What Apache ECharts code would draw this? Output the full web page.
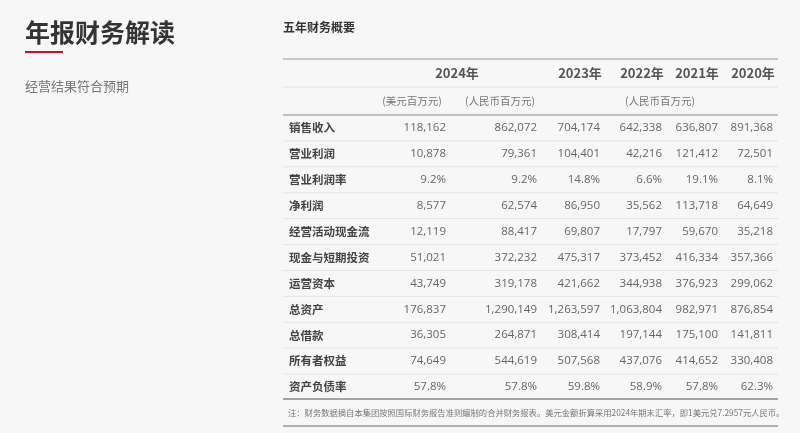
<!DOCTYPE html>
<html><head><meta charset="utf-8">
<script src="https://cdn.jsdelivr.net/npm/echarts@6/dist/echarts.min.js"></script>
<style>html,body{margin:0;background:#f7f7f7}#chart{width:800px;height:433px}</style>
</head><body><div id="chart"></div>
<script>
// 五年财务概要数据
var years = ["2024年", "2023年", "2022年", "2021年", "2020年"];
var units = ["(美元百万元)", "(人民币百万元)", "(人民币百万元)"];
var rowNames = ["销售收入", "营业利润", "营业利润率", "净利润", "经营活动现金流", "现金与短期投资", "运营资本", "总资产", "总借款", "所有者权益", "资产负债率"];
var usd2024 = ["118,162", "10,878", "9.2%", "8,577", "12,119", "51,021", "43,749", "176,837", "36,305", "74,649", "57.8%"];
var rmb2024 = ["862,072", "79,361", "9.2%", "62,574", "88,417", "372,232", "319,178", "1,290,149", "264,871", "544,619", "57.8%"];
var rmb2023 = ["704,174", "104,401", "14.8%", "86,950", "69,807", "475,317", "421,662", "1,263,597", "308,414", "507,568", "59.8%"];
var rmb2022 = ["642,338", "42,216", "6.6%", "35,562", "17,797", "373,452", "344,938", "1,063,804", "197,144", "437,076", "58.9%"];
var rmb2021 = ["636,807", "121,412", "19.1%", "113,718", "59,670", "416,334", "376,923", "982,971", "175,100", "414,652", "57.8%"];
var rmb2020 = ["891,368", "72,501", "8.1%", "64,649", "35,218", "357,366", "299,062", "876,854", "141,811", "330,408", "62.3%"];
var note = "注：财务数据摘自本集团按照国际财务报告准则编制的合并财务报表。美元金额折算采用2024年期末汇率，即1美元兑7.2957元人民币。";

var font = "'Noto Sans CJK SC', sans-serif";
var numFont = "'Open Sans', sans-serif";
var cols = [usd2024, rmb2024, rmb2023, rmb2022, rmb2021, rmb2020];
var colRight = [446, 537, 600, 662, 718, 773];
var yearX = [457, 580, 642, 697, 753];
var unitX = [412, 500, 660];
var L = 283, R = 778, rowY0 = 128, rowH = 25.9;

var els = [];
function text(x, y, s, o) {
  els.push({ type: "text", x: x, y: y, style: Object.assign({ text: s, font: "12px " + font, fill: "#555", verticalAlign: "middle" }, o || {}) });
}
function line(y, color, w) {
  els.push({ type: "line", shape: { x1: L, y1: y, x2: R, y2: y }, style: { stroke: color, lineWidth: w } });
}

text(25, 32, "年报财务解读", { font: "bold 25px " + font, fill: "#333" });
els.push({ type: "rect", shape: { x: 25, y: 51, width: 38, height: 2 }, style: { fill: "#c8102e" } });
text(25, 86, "经营结果符合预期", { font: "13px " + font, fill: "#777" });
text(283, 27, "五年财务概要", { font: "bold 12px " + font, fill: "#333" });

line(59, "#999", 1);
line(87, "#e2e2e2", 1);
line(115, "#888", 1);
years.forEach(function (y, i) {
  text(yearX[i], 73, y, { font: "bold 13px " + font, fill: "#555", align: "center" });
});
units.forEach(function (u, i) {
  text(unitX[i], 101, u, { font: "10.5px " + font, fill: "#777", align: "center" });
});
rowNames.forEach(function (n, r) {
  var y = rowY0 + r * rowH;
  text(289, y, n, { font: "bold 11.5px " + font, fill: "#444" });
  cols.forEach(function (c, j) {
    text(colRight[j], y, c[r], { font: "11.5px " + numFont, fill: "#666", align: "right" });
  });
  if (r < rowNames.length - 1) line(y + rowH / 2, "#e4e4e4", 1);
});
var lastY = rowY0 + (rowNames.length - 1) * rowH + rowH / 2 - 1;
line(lastY, "#888", 1.5);
text(288, 413, note, { font: "8.3px " + font, fill: "#777" });
line(426, "#999", 1.5);

var chart = echarts.init(document.getElementById("chart"));
chart.setOption({ backgroundColor: "#f7f7f7", graphic: { elements: els } });
</script></body></html>
